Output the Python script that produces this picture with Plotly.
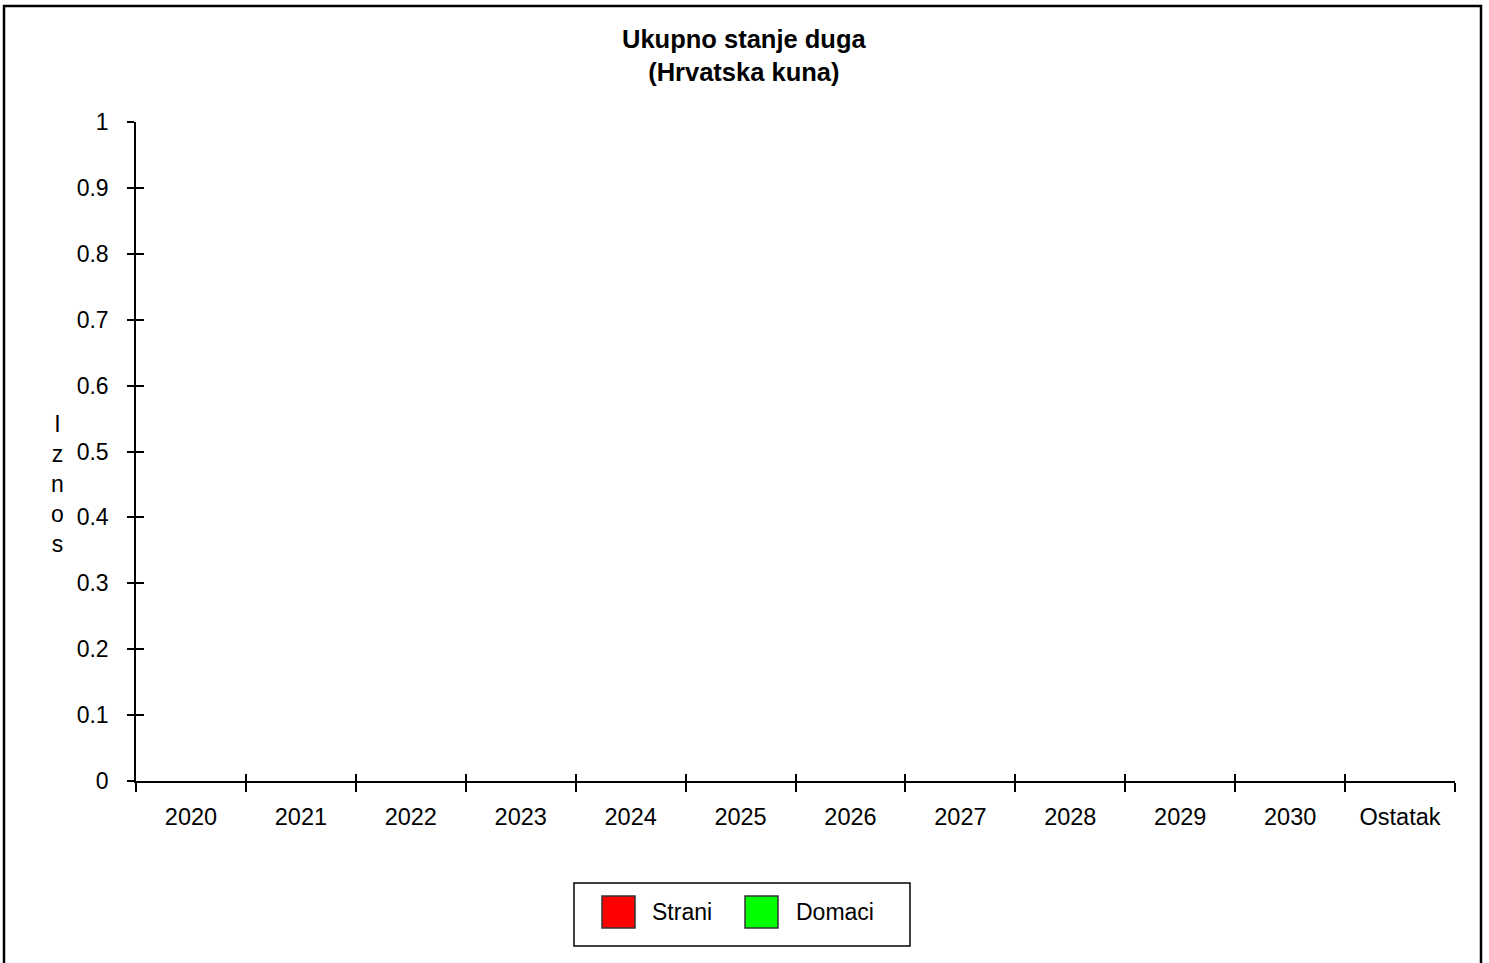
import plotly.graph_objects as go

# ---- data ----
categories = ["2020", "2021", "2022", "2023", "2024", "2025",
              "2026", "2027", "2028", "2029", "2030", "Ostatak"]
series_names = ["Strani", "Domaci"]
series_colors = ["#FF0000", "#00FF00"]
strani = [0, 0, 0, 0, 0, 0, 0, 0, 0, 0, 0, 0]
domaci = [0, 0, 0, 0, 0, 0, 0, 0, 0, 0, 0, 0]
y_ticks = [0, 0.1, 0.2, 0.3, 0.4, 0.5, 0.6, 0.7, 0.8, 0.9, 1]
y_tick_labels = ["0", "0.1", "0.2", "0.3", "0.4", "0.5", "0.6", "0.7", "0.8", "0.9", "1"]
title_lines = ["Ukupno stanje duga", "(Hrvatska kuna)"]
y_title = "Iznos"

W, H = 1489, 963
L, R, T, B = 136, 1455, 122, 781
FONT = "Liberation Sans, Arial, sans-serif"


def px(x):
    return (x - L) / (R - L)


def py(y):
    return (B - y) / (B - T)


fig = go.Figure()
for name, vals, col in zip(series_names, [strani, domaci], series_colors):
    fig.add_trace(go.Bar(x=categories, y=vals, name=name, marker_color=col,
                         marker_line_width=0, showlegend=False))
# helper trace for the overlay axes (inner half of crossing ticks)
fig.add_trace(go.Scatter(x=categories, y=[None] * len(categories), xaxis="x2", yaxis="y2",
                         mode="markers", showlegend=False, hoverinfo="skip"))

axis_common = dict(linecolor="black", tickcolor="black", showgrid=False, zeroline=False)

fig.update_layout(
    width=W, height=H,
    margin=dict(l=L, r=W - R, t=T, b=H - B, pad=0),
    paper_bgcolor="white", plot_bgcolor="white",
    font=dict(family=FONT, size=23, color="black"),
    barmode="group",
    xaxis=dict(type="category", categoryorder="array", categoryarray=categories,
               range=[-0.5, len(categories) - 0.5], tickson="boundaries",
               ticks="outside", ticklen=9, tickwidth=1.5, showline=True, linewidth=1.5,
               ticklabelstandoff=14, tickfont=dict(size=23.5), **axis_common),
    yaxis=dict(range=[0, 1], tickvals=y_ticks, ticktext=y_tick_labels,
               ticks="outside", ticklen=7, tickwidth=1.5, showline=True, linewidth=1.5,
               ticklabelstandoff=14, tickfont=dict(size=23), **axis_common),
    xaxis2=dict(type="category", categoryorder="array", categoryarray=categories,
                range=[-0.5, len(categories) - 0.5], tickson="boundaries",
                overlaying="x", anchor="y2", side="bottom",
                ticks="inside", ticklen=7, tickwidth=1.5, showticklabels=False,
                showline=False, **axis_common),
    yaxis2=dict(range=[0, 1], tickvals=y_ticks, overlaying="y", anchor="x2", side="left",
                ticks="inside", ticklen=8, tickwidth=1.5, showticklabels=False,
                showline=False, **axis_common),
)

shapes = []
annotations = []

# outer frame
shapes.append(dict(type="rect", xref="paper", yref="paper",
                   x0=px(4), x1=px(1481), y0=py(975), y1=py(6),
                   line=dict(color="black", width=2.5), fillcolor="rgba(0,0,0,0)"))

# title
annotations.append(dict(xref="paper", yref="paper", x=px(744.5), y=py(56),
                        xanchor="center", yanchor="middle", showarrow=False,
                        text="<br>".join("<b>%s</b>" % t for t in title_lines),
                        font=dict(size=25.5, family=FONT)))

# vertical stacked y-axis title
annotations.append(dict(xref="paper", yref="paper", x=px(57), y=py(484),
                        xanchor="center", yanchor="middle", showarrow=False,
                        text="<br>".join(list(y_title)), font=dict(size=23, family=FONT)))

# legend box
shapes.append(dict(type="rect", xref="paper", yref="paper",
                   x0=px(574), x1=px(910), y0=py(946), y1=py(883),
                   line=dict(color="black", width=1.5), fillcolor="white"))
swatch_x = [602, 745]
text_x = [650, 794]
for name, col, sx, tx in zip(series_names, series_colors, swatch_x, text_x):
    shapes.append(dict(type="rect", xref="paper", yref="paper",
                       x0=px(sx), x1=px(sx + 33), y0=py(928), y1=py(896),
                       line=dict(color="#333333", width=1.5), fillcolor=col))
    annotations.append(dict(xref="paper", yref="paper", x=px(tx), y=py(912),
                            xanchor="left", yanchor="middle", showarrow=False,
                            text=name, font=dict(size=23, family=FONT)))

fig.update_layout(shapes=shapes, annotations=annotations)

fig.write_html("out.html",
               config={"displayModeBar": False},
               post_script="document.body.style.margin='0';document.body.style.overflow='hidden';")
